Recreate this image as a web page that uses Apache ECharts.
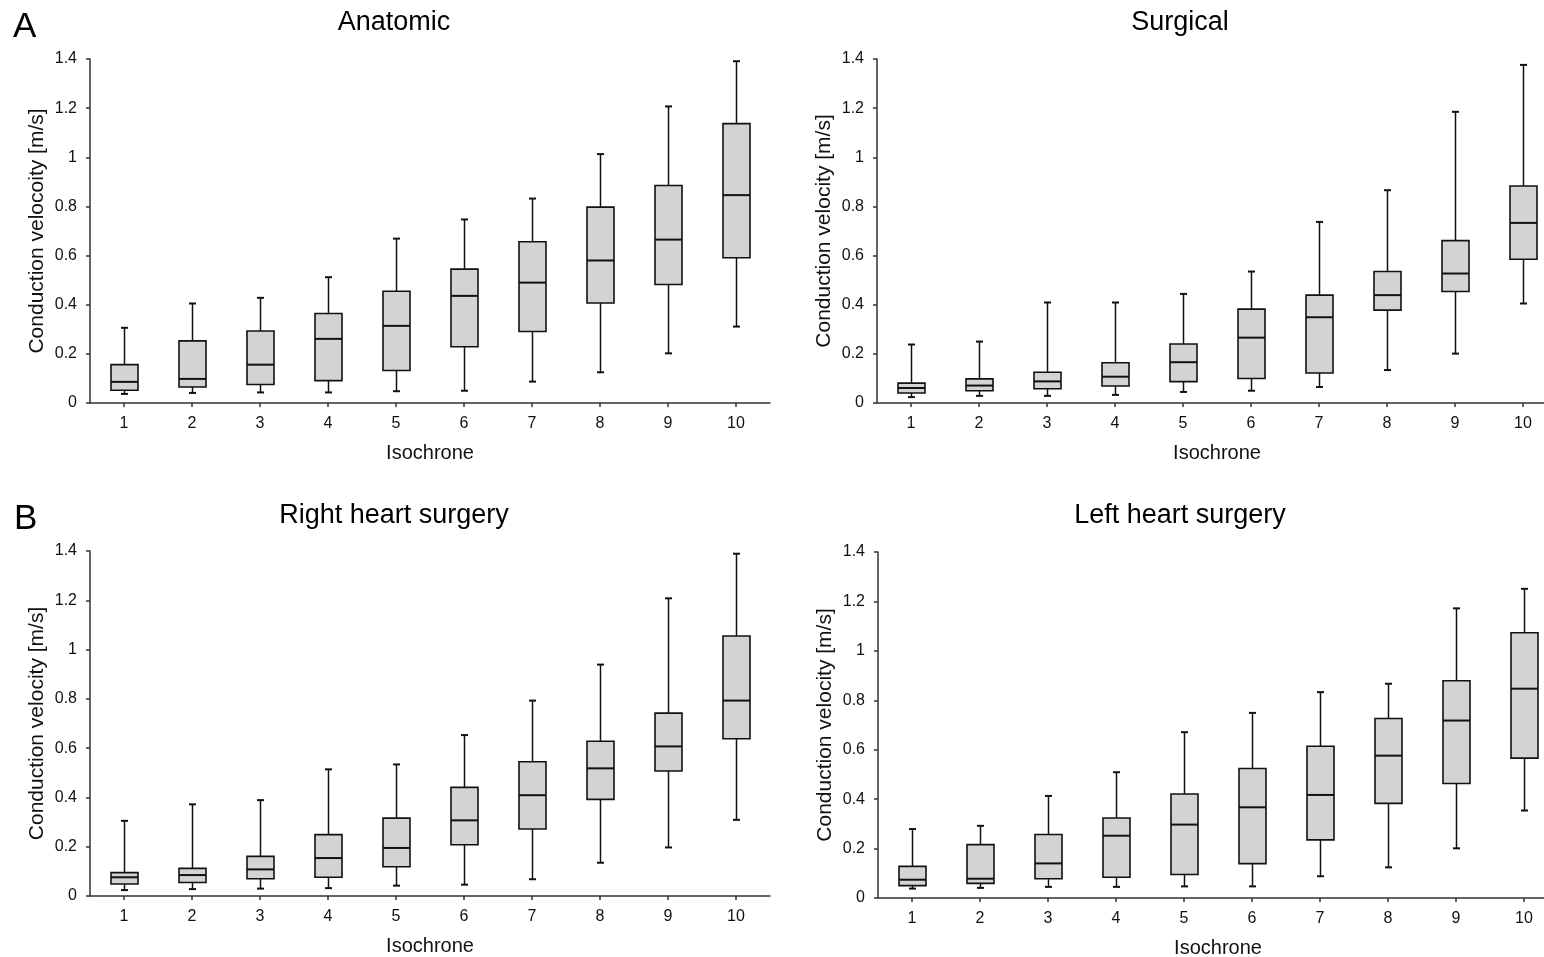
<!DOCTYPE html>
<html>
<head>
<meta charset="utf-8">
<script src="https://cdn.jsdelivr.net/npm/echarts@6/dist/echarts.min.js"></script>
<style>
html,body{margin:0;padding:0;background:#fff;}
#chart{width:1544px;height:957px;}
</style>
</head>
<body>
<div id="chart"></div>
<script>
const categories = ['1','2','3','4','5','6','7','8','9','10'];
const yTicks = [0, 0.2, 0.4, 0.6, 0.8, 1, 1.2, 1.4];

// Anatomic
const anatomicMax    = [0.306, 0.405, 0.428, 0.512, 0.669, 0.747, 0.832, 1.013, 1.207, 1.391];
const anatomicQ3     = [0.156, 0.253, 0.293, 0.364, 0.455, 0.545, 0.656, 0.797, 0.885, 1.137];
const anatomicMedian = [0.086, 0.098, 0.156, 0.261, 0.314, 0.436, 0.490, 0.580, 0.665, 0.846];
const anatomicQ1     = [0.052, 0.065, 0.075, 0.091, 0.132, 0.229, 0.291, 0.407, 0.482, 0.591];
const anatomicMin    = [0.037, 0.041, 0.043, 0.043, 0.048, 0.050, 0.087, 0.125, 0.202, 0.311];

// Surgical
const surgicalMax    = [0.238, 0.250, 0.409, 0.409, 0.444, 0.535, 0.737, 0.866, 1.185, 1.376];
const surgicalQ3     = [0.081, 0.098, 0.125, 0.164, 0.240, 0.382, 0.439, 0.535, 0.661, 0.883];
const surgicalMedian = [0.061, 0.071, 0.088, 0.107, 0.166, 0.266, 0.349, 0.439, 0.527, 0.733];
const surgicalQ1     = [0.041, 0.050, 0.058, 0.069, 0.087, 0.100, 0.122, 0.378, 0.454, 0.585];
const surgicalMin    = [0.024, 0.029, 0.029, 0.033, 0.045, 0.050, 0.065, 0.134, 0.201, 0.405];

// Right heart surgery
const rightMax    = [0.305, 0.372, 0.389, 0.514, 0.534, 0.653, 0.793, 0.939, 1.208, 1.389];
const rightQ3     = [0.095, 0.112, 0.161, 0.249, 0.316, 0.441, 0.545, 0.628, 0.742, 1.055];
const rightMedian = [0.076, 0.085, 0.108, 0.154, 0.195, 0.307, 0.409, 0.518, 0.607, 0.793];
const rightQ1     = [0.049, 0.055, 0.070, 0.076, 0.119, 0.208, 0.272, 0.392, 0.507, 0.638];
const rightMin    = [0.024, 0.028, 0.030, 0.032, 0.042, 0.046, 0.068, 0.135, 0.197, 0.309];

// Left heart surgery
const leftMax    = [0.279, 0.292, 0.413, 0.509, 0.671, 0.749, 0.833, 0.867, 1.172, 1.251];
const leftQ3     = [0.128, 0.216, 0.257, 0.324, 0.421, 0.524, 0.614, 0.726, 0.879, 1.073];
const leftMedian = [0.074, 0.078, 0.140, 0.252, 0.297, 0.367, 0.417, 0.576, 0.718, 0.847];
const leftQ1     = [0.050, 0.059, 0.078, 0.084, 0.095, 0.139, 0.235, 0.383, 0.463, 0.566];
const leftMin    = [0.038, 0.041, 0.045, 0.045, 0.047, 0.047, 0.088, 0.124, 0.201, 0.354];

const panels = [
  {title:'Anatomic', yName:'Conduction velocoity [m/s]', min:anatomicMin, q1:anatomicQ1, med:anatomicMedian, q3:anatomicQ3, max:anatomicMax,
   grid:{left:90, top:59, width:680, height:344}, titleX:394, titleY:23},
  {title:'Surgical', yName:'Conduction velocity [m/s]', min:surgicalMin, q1:surgicalQ1, med:surgicalMedian, q3:surgicalQ3, max:surgicalMax,
   grid:{left:877, top:59, width:680, height:344}, titleX:1180, titleY:23},
  {title:'Right heart surgery', yName:'Conduction velocity [m/s]', min:rightMin, q1:rightQ1, med:rightMedian, q3:rightQ3, max:rightMax,
   grid:{left:90, top:551, width:680, height:345}, titleX:394, titleY:516},
  {title:'Left heart surgery', yName:'Conduction velocity [m/s]', min:leftMin, q1:leftQ1, med:leftMedian, q3:leftQ3, max:leftMax,
   grid:{left:878, top:552, width:680, height:346}, titleX:1180, titleY:516}
];

const FONT = '"Liberation Sans", Arial, Helvetica, sans-serif';
const INK = '#111';

function renderBox(params, api) {
  const i = api.value(0);
  const lo = api.coord([i, api.value(1)]);
  const q1 = api.coord([i, api.value(2)]);
  const md = api.coord([i, api.value(3)]);
  const q3 = api.coord([i, api.value(4)]);
  const hi = api.coord([i, api.value(5)]);
  const x = Math.round(lo[0]) + 0.5;
  const bw = 27, cw = 7;
  const ls = {stroke: INK, lineWidth: 1.5};
  return {
    type: 'group',
    children: [
      {type:'line', shape:{x1:x, y1:hi[1], x2:x, y2:q3[1]}, style:ls},
      {type:'line', shape:{x1:x, y1:q1[1], x2:x, y2:lo[1]}, style:ls},
      {type:'line', shape:{x1:x-cw/2, y1:hi[1], x2:x+cw/2, y2:hi[1]}, style:{stroke:INK, lineWidth:2}},
      {type:'line', shape:{x1:x-cw/2, y1:lo[1], x2:x+cw/2, y2:lo[1]}, style:{stroke:INK, lineWidth:2}},
      {type:'rect', shape:{x:x-bw/2, y:q3[1], width:bw, height:q1[1]-q3[1]}, style:{fill:'#d3d3d3', stroke:INK, lineWidth:1.6}},
      {type:'line', shape:{x1:x-bw/2, y1:md[1], x2:x+bw/2, y2:md[1]}, style:{stroke:INK, lineWidth:2}}
    ]
  };
}

const option = {
  backgroundColor: '#ffffff',
  animation: false,
  grid: panels.map(p => Object.assign({containLabel:false, outerBoundsMode:'none'}, p.grid)),
  xAxis: panels.map((p, k) => ({
    type: 'category', gridIndex: k, data: categories, boundaryGap: true,
    name: 'Isochrone', nameLocation: 'middle', nameGap: 40,
    nameTextStyle: {fontFamily: FONT, fontSize: 20, color: INK},
    axisLine: {show: true, lineStyle: {color: '#333', width: 1.5}},
    axisTick: {show: true, alignWithLabel: true, length: 4, lineStyle: {color: '#333', width: 1.5}},
    axisLabel: {fontFamily: FONT, fontSize: 16, color: INK, margin: 13},
    splitLine: {show: false}
  })),
  yAxis: panels.map((p, k) => ({
    type: 'value', gridIndex: k, min: 0, max: 1.4, interval: 0.2,
    name: p.yName, nameLocation: 'middle', nameGap: 42, nameRotate: 90,
    nameTextStyle: {fontFamily: FONT, fontSize: 21, color: INK},
    axisLine: {show: true, lineStyle: {color: '#333', width: 1.5}},
    axisTick: {show: true, length: 4, lineStyle: {color: '#333', width: 1.5}},
    axisLabel: {fontFamily: FONT, fontSize: 16, color: INK, margin: 13,
      formatter: v => String(Math.round(v * 10) / 10)},
    splitLine: {show: false}
  })),
  series: panels.map((p, k) => ({
    type: 'custom', xAxisIndex: k, yAxisIndex: k,
    renderItem: renderBox,
    encode: {x: 0, y: [1, 2, 3, 4, 5]},
    data: categories.map((c, i) => [i, p.min[i], p.q1[i], p.med[i], p.q3[i], p.max[i]])
  })),
  graphic: [
    {type:'text', left: 13, top: 10, style:{text:'A', font: '35px ' + FONT, fill: '#000'}},
    {type:'text', left: 14, top: 502, style:{text:'B', font: '35px ' + FONT, fill: '#000'}}
  ].concat(panels.map(p => ({
    type: 'text', x: p.titleX, y: p.titleY,
    style: {text: p.title, font: '27px ' + FONT, fill: '#000', textAlign: 'center', textVerticalAlign: 'middle'}
  })))
};

const chart = echarts.init(document.getElementById('chart'));
chart.setOption(option);
</script>
</body>
</html>
